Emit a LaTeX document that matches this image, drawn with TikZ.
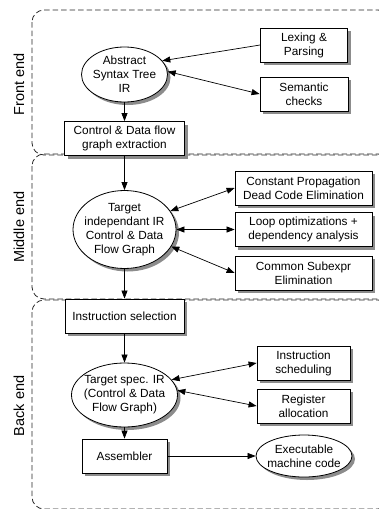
\documentclass[tikz,border=0pt]{standalone}
\usepackage{fontspec}
\setmainfont{Liberation Sans}
\usetikzlibrary{shapes.geometric,arrows.meta,shadows}
\begin{document}
\begin{tikzpicture}[x=1pt,y=-1pt,
  font=\fontsize{11.8}{14}\selectfont,
  stage/.style={draw=black!85, line width=0.8pt, dash pattern=on 5.5pt off 3pt, rounded corners=12pt},
  stagelabel/.style={rotate=90, font=\fontsize{14.5}{17}\selectfont},
  shad/.style={drop shadow={shadow xshift=3pt, shadow yshift=-3pt, fill=black!45, opacity=1}},
  procbox/.style={draw, line width=0.8pt, fill=white, minimum height=34pt, inner sep=1pt, align=center, shad},
  irnode/.style={ellipse, draw, line width=0.8pt, fill=white, inner xsep=-10pt, inner ysep=-6pt, align=center, shad},
  arr/.style={-{Triangle[length=8pt,width=6pt]}, line width=0.7pt},
  dbl/.style={{Triangle[length=8pt,width=6pt]}-{Triangle[length=8pt,width=6pt]}, line width=0.7pt}
]
\useasboundingbox (0,0) rectangle (379,509);
\clip (0,0) rectangle (379,509);

% stage containers
\draw[stage] (32,10) rectangle (390,155);
\draw[stage] (32,154) rectangle (390,299);
\draw[stage] (32,300) rectangle (390,509);

\node[stagelabel] (lfront) at (19,84) {Front end};
\node[stagelabel] (lmiddle) at (19,227) {Middle end};
\node[stagelabel] (lback) at (19,406) {Back end};

% front end
\node[irnode, minimum width=86pt, minimum height=55pt] (ast) at (124.5,74.5) {Abstract\\Syntax Tree\\IR};
\node[procbox, minimum width=87pt] (lex) at (304,45) {Lexing \&\\Parsing};
\node[procbox, minimum width=88pt] (sem) at (304,94) {Semantic\\checks};
\node[procbox, minimum width=120pt] (cdf) at (124.5,138.5) {Control \& Data flow\\graph extraction};

% middle end
\node[irnode, minimum width=103pt, minimum height=78pt] (tii) at (124.5,229.5) {Target\\independant IR\\Control \& Data\\Flow Graph};
\node[procbox, minimum width=137pt] (const) at (303.5,188) {Constant Propagation\\Dead Code Elimination};
\node[procbox, minimum width=137pt] (loop) at (303.5,229.5) {Loop optimizations +\\dependency analysis};
\node[procbox, minimum width=137pt] (common) at (303.5,273) {Common Subexpr\\Elimination};

% back end
\node[procbox, minimum width=119pt] (isel) at (124.5,316) {Instruction selection};
\node[irnode, minimum width=106pt, minimum height=64pt] (ts) at (124.5,395) {Target spec. IR\\(Control \& Data\\Flow Graph)};
\node[procbox, minimum width=93pt] (sched) at (303.5,363) {Instruction\\scheduling};
\node[procbox, minimum width=93pt] (reg) at (303.5,406) {Register\\allocation};
\node[procbox, minimum width=85pt] (asm) at (124.5,456) {Assembler};
\node[irnode, minimum width=96pt, minimum height=42pt] (exe) at (304,456) {Executable\\machine code};

% connectors
\draw[arr] (lex.west) -- (ast.20);
\draw[dbl] (ast.4) -- (sem.west);
\draw[arr] (ast.south) -- (cdf.north);
\draw[arr] (cdf.south) -- (tii.north);
\draw[dbl] (tii.22) -- (const.west);
\draw[dbl] (tii.east) -- (loop.west);
\draw[dbl] (tii.-20) -- (common.west);
\draw[arr] (tii.south) -- (isel.north);
\draw[arr] (isel.south) -- (ts.north);
\draw[dbl] (ts.18) -- (sched.west);
\draw[dbl] (ts.5) -- (reg.west);
\draw[arr] (ts.south) -- (asm.north);
\draw[arr] (asm.east) -- (exe.west);
\end{tikzpicture}
\end{document}
